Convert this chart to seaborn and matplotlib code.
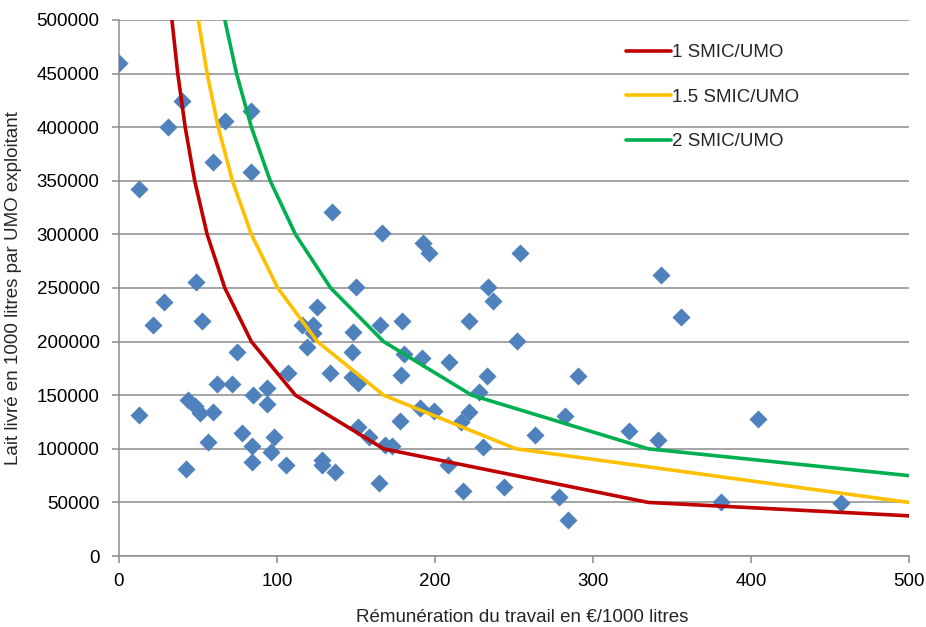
import seaborn as sns
import matplotlib.pyplot as plt
import pandas as pd

# Exploitations : rémunération du travail (€/1000 l) et lait livré par UMO (1000 l)
remu = [0, 12.7, 12.7, 21.5, 28.5, 31.2, 40.2, 42.4, 43.9, 48.1, 48.7, 51.3, 52.3,
        56.5, 59.3, 59.7, 62.2, 67.1, 71.3, 74.9, 77.6, 83.5, 83.5, 84.0, 84.4, 85.0,
        93.9, 93.9, 96.0, 98.1, 105.5, 107.1, 115.6, 118.7, 122.9, 122.9, 125.5,
        128.8, 128.8, 133.5, 135.0, 136.7, 147.3, 147.7, 148.3, 150.0, 151.5, 151.5,
        158.4, 164.7, 165.2, 166.8, 168.4, 172.6, 177.8, 178.5, 178.9, 180.6, 190.5,
        191.6, 192.6, 196.4, 199.4, 208.3, 209.0, 216.2, 217.9, 221.5, 221.5, 228.0,
        230.5, 233.2, 233.7, 236.5, 243.9, 252.0, 253.8, 263.3, 278.5, 282.3, 284.4,
        290.5, 323.0, 340.9, 343.4, 355.6, 381.0, 404.6, 457.0]
lait = [460000, 342000, 131500, 215500, 237000, 400000, 424700, 81000, 145500, 140000,
        255600, 133000, 219500, 106000, 134600, 367800, 160000, 406000, 160000, 190600,
        114400, 415400, 358500, 88000, 102900, 150000, 157000, 141500, 96700, 110700,
        85000, 171000, 215500, 195000, 215500, 207700, 232600, 89600, 85000, 171000,
        321000, 78000, 166700, 190600, 209000, 251000, 161000, 120600, 110700, 68400,
        215500, 301600, 103500, 102900, 126300, 168800, 219500, 188400, 137800, 184400,
        291700, 283000, 135600, 85000, 181300, 125400, 61000, 219500, 134700, 152700,
        102000, 168200, 251000, 237500, 64600, 201000, 283000, 112900, 55400, 130600,
        33600, 168200, 117000, 108200, 262000, 223300, 50700, 127500, 49000]

# Courbes d'iso-rémunération
smic1_x = [33.5, 37.2, 41.9, 47.9, 55.8, 67.0, 83.8, 111.7, 167.5, 335.0, 500]
smic1_y = [500000, 450000, 400000, 350000, 300000, 250000, 200000, 150000, 100000, 50000, 37500]
smic15_x = [50.2, 55.8, 62.8, 71.8, 83.8, 100.5, 125.6, 167.5, 251.3, 500]
smic15_y = [500000, 450000, 400000, 350000, 300000, 250000, 200000, 150000, 100000, 50000]
smic2_x = [67.0, 74.4, 83.8, 95.7, 111.7, 134.0, 167.5, 223.3, 335.0, 500]
smic2_y = [500000, 450000, 400000, 350000, 300000, 250000, 200000, 150000, 100000, 75000]

courbes = [
    ("1 SMIC/UMO", smic1_x, smic1_y, "#C00000"),
    ("1.5 SMIC/UMO", smic15_x, smic15_y, "#FFC000"),
    ("2 SMIC/UMO", smic2_x, smic2_y, "#00B050"),
]

sns.set_style("white")
plt.rcParams['font.family'] = ['Liberation Sans', 'DejaVu Sans']

fig = plt.figure(figsize=(9.26, 6.27), dpi=100)
ax = fig.add_axes([0.1285, 0.1132, 0.853, 0.855])

# Grille horizontale
ax.yaxis.grid(True, color="#8c8c8c", linewidth=1.1)
ax.xaxis.grid(False)
ax.set_axisbelow(True)

pts = pd.DataFrame({"x": remu, "y": lait})
sns.scatterplot(data=pts, x="x", y="y", marker="D", s=85, color="#4F81BD",
                linewidth=0, ax=ax, zorder=3, legend=False)

for nom, xs, ys, coul in courbes:
    df = pd.DataFrame({"x": xs, "y": ys})
    sns.lineplot(data=df, x="x", y="y", sort=False, color=coul, linewidth=2.6,
                 label=nom, ax=ax, zorder=4)

ax.set_xlim(0, 500)
ax.set_ylim(0, 500000)
ax.set_xticks(range(0, 501, 100))
ax.set_yticks(range(0, 500001, 50000))
ax.ticklabel_format(style="plain", axis="y")

for side in ["top", "right"]:
    ax.spines[side].set_visible(False)
for side in ["left", "bottom"]:
    ax.spines[side].set_color("#8c8c8c")
    ax.spines[side].set_linewidth(1.1)

ax.tick_params(axis="both", which="major", labelsize=13.5, colors="#8c8c8c",
               labelcolor="black", length=5, width=1.1, direction="out",
               bottom=True, left=True)
ax.tick_params(axis="y", pad=9)
ax.tick_params(axis="x", pad=7)

ax.set_xlabel("Rémunération du travail en €/1000 litres", fontsize=13.5)
ax.set_ylabel("Lait livré en 1000 litres par UMO exploitant", fontsize=13.5)
ax.xaxis.set_label_coords(0.51, -0.098)
ax.yaxis.set_label_coords(-0.123, 0.5)

leg = ax.legend(loc="upper left", bbox_to_anchor=(0.62, 0.986), frameon=False,
                fontsize=13.5, handlelength=2.4, handletextpad=0.1, labelspacing=1.45)

fig.savefig("out.png", dpi=100)
